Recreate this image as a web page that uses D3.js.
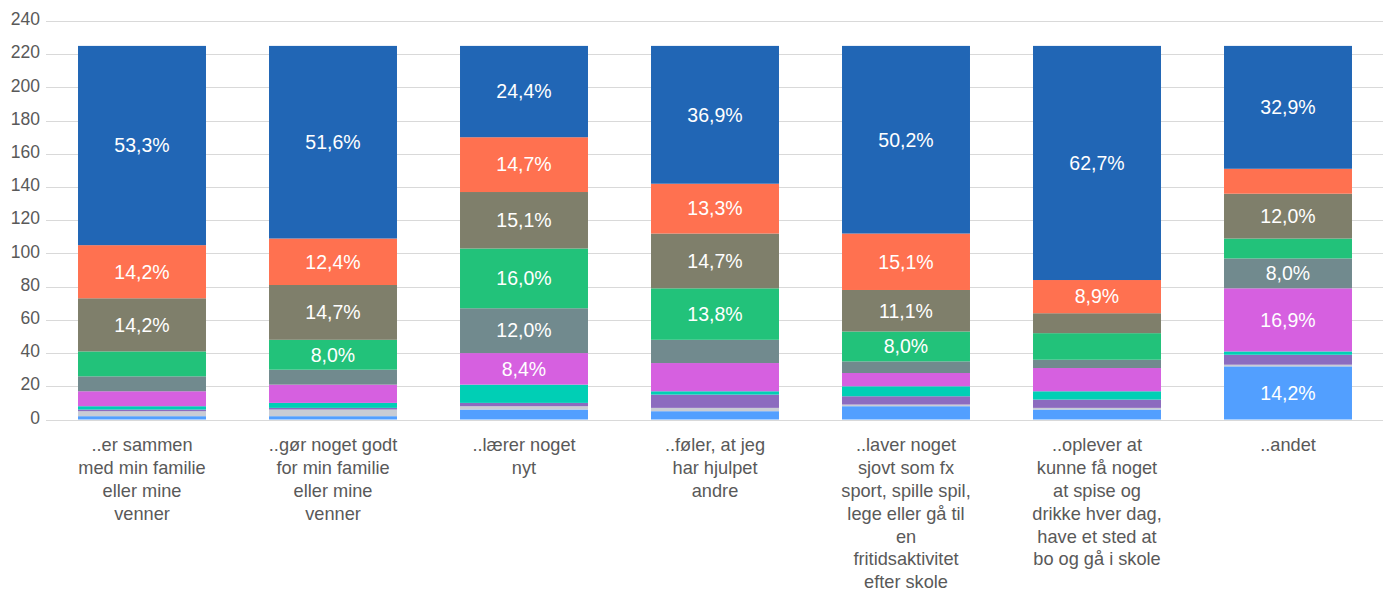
<!DOCTYPE html>
<html>
<head>
<meta charset="utf-8">
<script src="https://cdn.jsdelivr.net/npm/d3@7"></script>
<style>
  body { margin: 0; background: #fff; }
  svg { display: block; font-family: "Liberation Sans", Arial, sans-serif; }
</style>
</head>
<body>
<svg id="chart" width="1391" height="594"></svg>
<script>
// kategorier (linjeskift som i originalen)
var categories = [
    ["..er sammen", "med min familie", "eller mine", "venner"],
    ["..gør noget godt", "for min familie", "eller mine", "venner"],
    ["..lærer noget", "nyt"],
    ["..føler, at jeg", "har hjulpet", "andre"],
    ["..laver noget", "sjovt som fx", "sport, spille spil,", "lege eller gå til", "en", "fritidsaktivitet", "efter skole"],
    ["..oplever at", "kunne få noget", "at spise og", "drikke hver dag,", "have et sted at", "bo og gå i skole"],
    ["..andet"]
];

// serier nedefra og op, antal svar (ud af 225)
var s1 = [2, 2, 6, 5, 8, 6, 32];
var s2 = [3, 4, 2, 2, 1, 1, 1];
var s3 = [1, 1, 2, 8, 5, 5, 6];
var s4 = [2, 3, 11, 2, 6, 5, 2];
var s5 = [9, 11, 19, 17, 8, 14, 38];
var s6 = [9, 9, 27, 14, 7, 5, 18];
var s7 = [15, 18, 36, 31, 18, 16, 12];
var s8 = [32, 33, 34, 33, 25, 12, 27];
var s9 = [32, 28, 33, 30, 34, 20, 15];
var s10 = [120, 116, 55, 83, 113, 141, 74];

var colors = ["#529fff", "#c8ccd4", "#8c6bbf", "#00cfb5", "#d660e0",
              "#718a8e", "#22c27a", "#7f7f6b", "#ff7150", "#2166b5"];

var yTicks = [0, 20, 40, 60, 80, 100, 120, 140, 160, 180, 200, 220, 240];
var total = 225;

var series = [s1, s2, s3, s4, s5, s6, s7, s8, s9, s10];
var svg = d3.select("#chart");

var scX = d3.scaleBand()
    .domain(d3.range(categories.length))
    .range([46.5, 1383.5])
    .paddingInner(0.33)
    .paddingOuter(0.165);
var scY = d3.scaleLinear().domain([0, 240]).range([419.5, 21]);

// gitterlinjer
svg.append("g")
    .selectAll("line")
    .data(yTicks)
    .enter()
    .append("line")
    .attr("x1", 46).attr("x2", 1383)
    .attr("y1", d => Math.round(scY(d)) + 0.5).attr("y2", d => Math.round(scY(d)) + 0.5)
    .attr("stroke", "#d9d9d9").attr("stroke-width", 1);

// y-akse
var yAxis = svg.append("g")
    .attr("transform", "translate(40,-2)")
    .call(d3.axisLeft(scY).tickValues(yTicks).tickSize(0).tickPadding(0));
yAxis.select(".domain").remove();
yAxis.selectAll("text")
    .attr("fill", "#595959")
    .style("font-size", "17.5px")
    .style("font-family", "Liberation Sans, Arial, sans-serif");

// stablede data
var rows = categories.map(function (c, i) {
    var row = { i: i };
    series.forEach(function (s, k) { row["k" + k] = s[i]; });
    return row;
});
var stack = d3.stack().keys(series.map((s, k) => "k" + k));
var layers = stack(rows);

var g = svg.append("g");
layers.forEach(function (layer, k) {
    g.selectAll("rect.l" + k)
        .data(layer)
        .enter()
        .append("rect")
        .attr("class", "l" + k)
        .attr("x", (d, i) => scX(i))
        .attr("width", scX.bandwidth())
        .attr("y", d => scY(d[1]))
        .attr("height", d => scY(d[0]) - scY(d[1]))
        .attr("fill", colors[k]);
});

// procent-etiketter
layers.forEach(function (layer, k) {
    g.selectAll("text.t" + k)
        .data(layer.filter(d => d[1] - d[0] >= 18))
        .enter()
        .append("text")
        .attr("class", "t" + k)
        .attr("x", d => scX(d.data.i) + scX.bandwidth() / 2)
        .attr("y", d => scY((d[0] + d[1]) / 2))
        .attr("dy", "0.35em")
        .attr("text-anchor", "middle")
        .attr("fill", "#fff")
        .style("font-size", "19.5px")
        .text(d => ((d[1] - d[0]) / total * 100).toFixed(1).replace(".", ",") + "%");
});

// kategori-etiketter
var cat = svg.append("g")
    .selectAll("text")
    .data(categories)
    .enter()
    .append("text")
    .attr("x", (d, i) => scX(i) + scX.bandwidth() / 2)
    .attr("y", 445)
    .attr("text-anchor", "middle")
    .attr("fill", "#595959")
    .style("font-size", "18.2px");
cat.selectAll("tspan")
    .data(d => d)
    .enter()
    .append("tspan")
    .attr("x", function () { return d3.select(this.parentNode).attr("x"); })
    .attr("y", (d, j) => 445 + j * 22.8)
    .attr("dy", "0.35em")
    .text(d => d);
</script>
</body>
</html>
